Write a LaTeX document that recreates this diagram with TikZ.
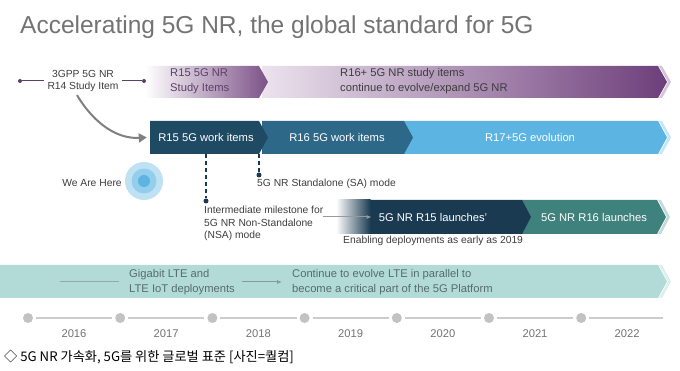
\documentclass[tikz,border=0pt]{standalone}
\usepackage{fontspec}
\setmainfont{Liberation Sans}
\newfontfamily\krfont{Noto Sans CJK KR}
\usetikzlibrary{arrows.meta}
\definecolor{titlegray}{HTML}{737373}
\definecolor{textgray}{HTML}{3D3D3D}
\definecolor{purpledark}{HTML}{6D3E7A}
\definecolor{purplelight}{HTML}{ECE3EE}
\definecolor{purpletext}{HTML}{5E3F6B}
\definecolor{navy}{HTML}{1F4A64}
\definecolor{steel}{HTML}{2D6888}
\definecolor{sky}{HTML}{5CB4E2}
\definecolor{ink}{HTML}{1A3A52}
\definecolor{tealband}{HTML}{3F817C}
\definecolor{mint}{HTML}{B2DBD8}
\definecolor{ltetext}{HTML}{566C6D}
\definecolor{linegray}{HTML}{CCCCCC}
\definecolor{dotgray}{HTML}{C2C2C2}
\begin{document}
\begin{tikzpicture}[x=1pt,y=-1pt,
  big/.style={font=\fontsize{11.2}{15}\selectfont,inner sep=0pt},
  small/.style={font=\fontsize{10.3}{12.5}\selectfont,inner sep=0pt,text=textgray},
  onband/.style={big,text=white},
  pindot/.style={circle,fill=ink,inner sep=0pt,minimum size=5pt},
  yeardot/.style={circle,fill=dotgray,inner sep=0pt,minimum size=10pt,outer sep=3pt},
  milestone/.style={ink,line width=1.8pt,dash pattern=on 4pt off 3pt}]
\useasboundingbox (0,0) rectangle (680,371);
\node[anchor=west,font=\fontsize{24.5}{28}\selectfont,text=titlegray,inner sep=0pt] (title) at (20,27) {Accelerating 5G NR, the global standard for 5G};

\shade[left color=purplelight,right color=purpledark] (262,66) -- (658,66) -- (667,82) -- (658,98) -- (262,98) -- cycle;
\fill[purpledark!30] (659,66) -- (662,66) -- (671,82) -- (662,98) -- (659,98) -- (668,82) -- cycle;
\shade[left color=white,right color=purpledark!90] (145,66) -- (259,66) -- (268,82) -- (259,98) -- (145,98) -- cycle;
\node[anchor=west,align=left,big,text=purpletext] (r15study) at (170,81.5) {R15 5G NR\\Study Items};
\node[anchor=west,align=left,big,text=textgray] (r16study) at (340,81.5) {R16+ 5G NR study items\\continue to evolve/expand 5G NR};
\node[small,align=center,inner sep=3pt] (study) at (83,81) {3GPP 5G NR\\R14 Study Item};
\node[circle,fill=purpletext,inner sep=0pt,minimum size=4pt] (sdot1) at (20,81) {};
\node[circle,fill=purpletext,inner sep=0pt,minimum size=4pt] (sdot2) at (144,81) {};
\draw[purpletext,line width=1pt] (sdot1) -- (study.west);
\draw[purpletext,line width=1pt] (study.east) -- (sdot2);

\fill[sky] (404,121) -- (658,121) -- (667,137.5) -- (658,154) -- (404,154) -- cycle;
\fill[sky!35] (659,121) -- (662,121) -- (671,137.5) -- (662,154) -- (659,154) -- (668,137.5) -- cycle;
\fill[steel] (262,121) -- (404,121) -- (413,137.5) -- (404,154) -- (262,154) -- cycle;
\fill[navy] (150,121) -- (259,121) -- (268,137.5) -- (259,154) -- (150,154) -- cycle;
\node[onband,minimum width=112pt,minimum height=33pt] (w15) at (206,137.5) {R15 5G work items};
\node[onband] (w16) at (337,137.5) {R16 5G work items};
\node[onband] (w17) at (530,137.5) {R17+5G evolution};
\draw[-{Triangle[length=8pt,width=9pt]},gray,line width=2pt] ([xshift=-6pt]study.south) .. controls (95,125) and (118,139) .. ([xshift=-3pt]w15.west);

\node[pindot] (nsadot) at (206,201) {};
\node[pindot] (sadot) at (259,175) {};
\draw[milestone] (w15.south) -- (nsadot);
\draw[milestone] (w15.south -| sadot) -- (sadot);
\node[small,anchor=west] (sa) at (257,184) {5G NR Standalone (SA) mode};
\node[small,anchor=north west,align=left] (nsa) at (204,206) {Intermediate milestone for\\5G NR Non-Standalone\\(NSA) mode};

\node[circle,fill=sky!40,minimum size=38pt,inner sep=0pt] (here) at (144,181) {};
\node[circle,fill=sky!65,minimum size=25pt,inner sep=0pt] (here2) at (144,181) {};
\node[circle,fill=sky,minimum size=12pt,inner sep=0pt] (here3) at (144,181) {};
\node[small] (herelbl) at (92,183) {We Are Here};

\fill[tealband] (522,200) -- (657,200) -- (666,217) -- (657,234) -- (522,234) -- cycle;
\fill[tealband!30] (658,200) -- (661,200) -- (670,217) -- (661,234) -- (658,234) -- (667,217) -- cycle;
\fill[ink] (370,200) -- (522,200) -- (531,217) -- (522,234) -- (370,234) -- cycle;
\shade[left color=white,right color=ink] (336,200) rectangle (370.5,234);
\node[onband] (r15launch) at (433,217) {5G NR R15 launches'};
\node[onband] (r16launch) at (594,217) {5G NR R16 launches};
\draw[-{Latex[length=5pt,width=4pt]},gray!80,line width=1pt] (nsa.east |- r15launch.west) -- ([xshift=-7pt]r15launch.west);
\node[small,anchor=west] (early) at (343,241) {Enabling deployments as early as 2019};

\fill[mint] (0,265) -- (658,265) -- (667,281.5) -- (658,298) -- (0,298) -- cycle;
\fill[mint!45] (659,265) -- (662,265) -- (671,281.5) -- (662,298) -- (659,298) -- (668,281.5) -- cycle;
\coordinate (ltestart) at (60,282);
\node[big,anchor=west,align=left,text=ltetext] (lte) at (129,282) {Gigabit LTE and\\LTE IoT deployments};
\node[big,anchor=west,align=left,text=ltetext] (cont) at (292,282) {Continue to evolve LTE in parallel to\\become a critical part of the 5G Platform};
\draw[ltetext!60,line width=1pt] (ltestart) -- ([xshift=-10pt]lte.west);
\draw[-{Latex[length=5pt,width=4pt]},ltetext!70,line width=1pt] ([xshift=7pt]lte.east) -- ([xshift=-10pt]cont.west);

\foreach \i/\yr in {0/2016,1/2017,2/2018,3/2019,4/2020,5/2021,6/2022}{
  \node[yeardot] (t\i) at ({28+92.2*\i},318) {};
  \node[big,text=titlegray] (yr\i) at ({74+92.2*\i},334) {\yr};
}
\coordinate (tend) at (663,318);
\foreach \i/\j in {0/1,1/2,2/3,3/4,4/5,5/6}
  \draw[linegray,line width=1.2pt] (t\i) -- (t\j);
\draw[linegray,line width=1.2pt] (t6) -- (tend);

\node[anchor=west,inner sep=0pt,font=\krfont\fontsize{13.2}{15}\selectfont] (caption) at (4,357) {◇ 5G NR 가속화, 5G를 위한 글로벌 표준 [사진=퀄컴]};
\end{tikzpicture}
\end{document}
